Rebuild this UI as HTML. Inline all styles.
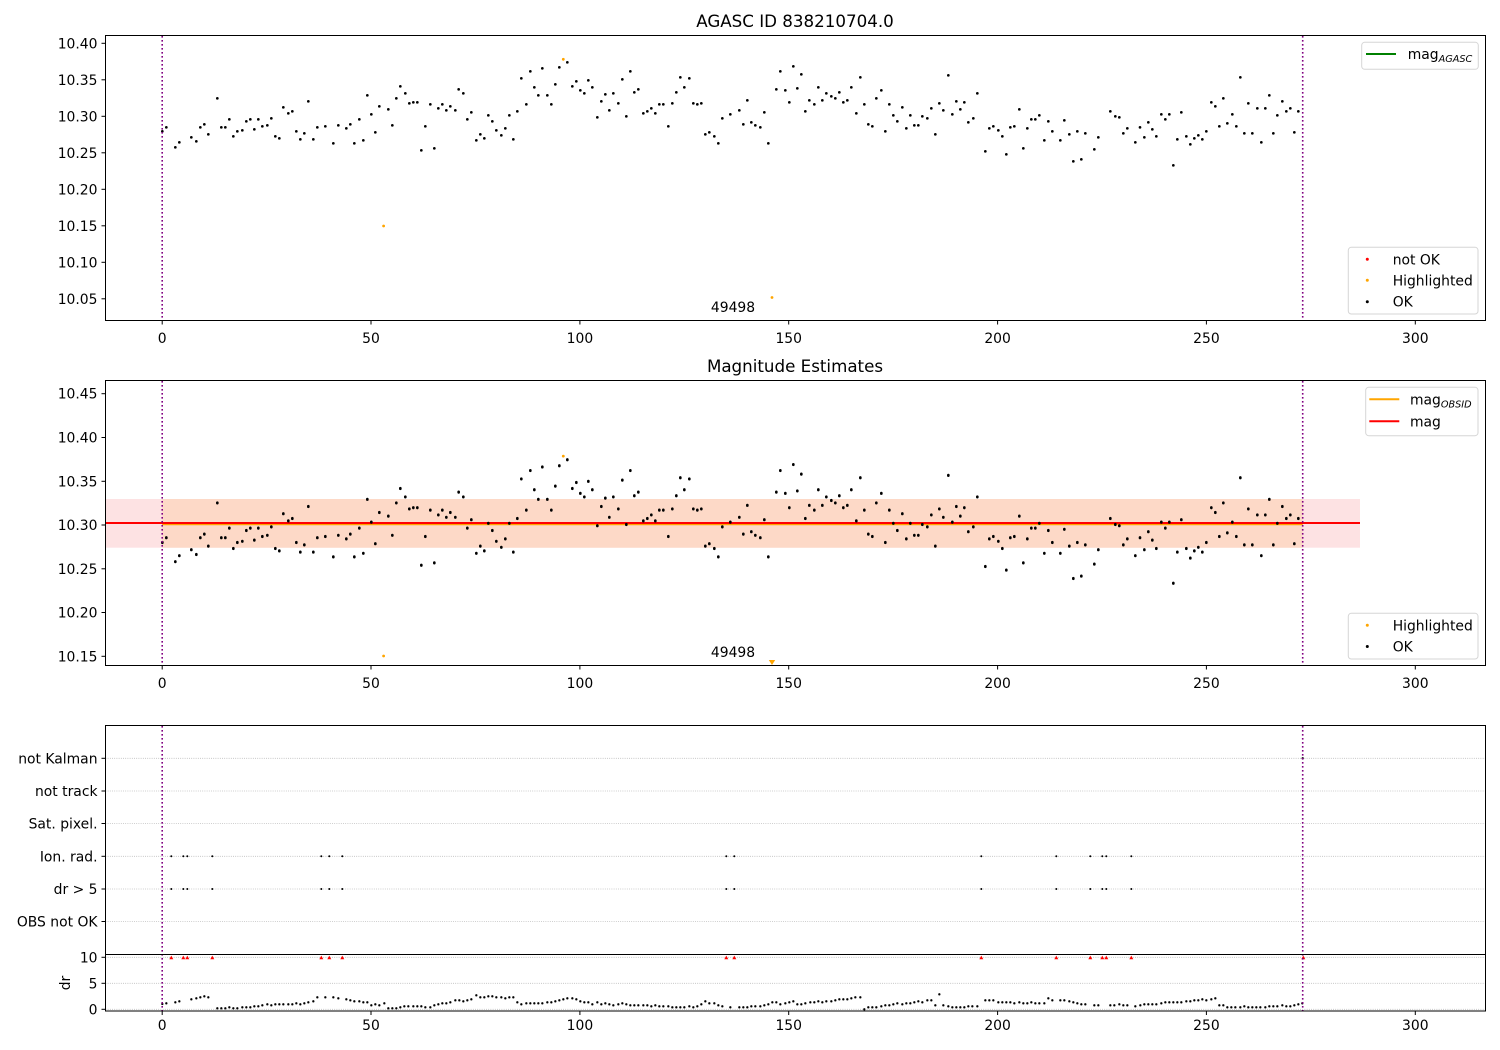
<!DOCTYPE html>
<html><head><meta charset="utf-8"><style>
html,body{margin:0;padding:0;background:#fff;}
svg{display:block;font-family:"DejaVu Sans","Liberation Sans",sans-serif;}
</style></head><body>
<svg width="1500" height="1050" viewBox="0 0 1500 1050" xmlns="http://www.w3.org/2000/svg" xmlns:xlink="http://www.w3.org/1999/xlink">
<rect width="1500" height="1050" fill="#fff"/>

<!-- ============ PANEL 1 ============ -->
<text x="795" y="27" font-size="16.7" text-anchor="middle" fill="#000">AGASC ID 838210704.0</text>
<g id="d1" fill="none" stroke="#000" stroke-linecap="round" stroke-width="8">
<path transform="translate(100,30) scale(0.33333)" d="M187 304h.01M199 292h.01M226 352h.01M238 337h.01M274 322h.01M289 334h.01M301 292h.01M313 283h.01M325 313h.01M352 205h.01M364 292h.01M376 292h.01M388 268h.01M400 319h.01M412 304h.01M427 301h.01M439 274h.01M451 268h.01M463 298h.01M475 268h.01M487 289h.01M502 286h.01M514 265h.01M526 319h.01M538 325h.01M550 232h.01M565 250h.01M577 244h.01M589 304h.01M601 328h.01M613 310h.01M625 214h.01M640 328h.01M652 292h.01M676 289h.01M700 340h.01M715 286h.01M739 295h.01M751 283h.01M763 340h.01M778 268h.01M790 331h.01M802 196h.01M814 253h.01M826 307h.01M838 229h.01M865 238h.01M877 286h.01M889 205h.01M901 169h.01M916 190h.01M928 220h.01M940 217h.01M952 217h.01M964 361h.01M976 289h.01M991 223h.01M1003 355h.01M1015 235h.01M1027 223h.01M1039 241h.01M1051 229h.01M1066 241h.01M1076 178h.01"/>
<path transform="translate(450,30) scale(0.33333)" d="M40 190h.01M52 268h.01M64 247h.01M79 331h.01M91 313h.01M103 325h.01M115 256h.01M127 274h.01M139 301h.01M154 316h.01M166 295h.01M178 256h.01M190 328h.01M202 244h.01M214 145h.01M229 223h.01M241 124h.01M253 172h.01M265 196h.01M277 115h.01M292 196h.01M304 223h.01M316 163h.01M328 112h.01M352 97h.01M367 169h.01M379 154h.01M391 181h.01M403 190h.01M415 151h.01M427 172h.01M442 262h.01M454 214h.01M466 193h.01M478 241h.01M490 190h.01M505 220h.01M517 148h.01M529 259h.01M541 124h.01M553 187h.01M565 178h.01M580 250h.01M592 244h.01M604 235h.01M616 250h.01M628 223h.01M640 223h.01M655 289h.01M667 220h.01M679 187h.01M691 142h.01M703 172h.01M718 145h.01M730 220h.01M742 223h.01M754 220h.01M766 313h.01M778 307h.01M793 319h.01M805 340h.01M817 265h.01M841 253h.01M868 241h.01M880 283h.01M892 211h.01M904 277h.01M916 286h.01M931 292h.01M943 247h.01M955 340h.01M979 178h.01M991 124h.01M1006 181h.01M1018 217h.01M1030 109h.01M1042 175h.01M1054 133h.01M1066 244h.01M1078 211h.01"/>
<path transform="translate(800,30) scale(0.33333)" d="M43 223h.01M55 172h.01M67 211h.01M79 190h.01M94 199h.01M106 205h.01M118 187h.01M130 217h.01M142 211h.01M154 172h.01M169 250h.01M181 142h.01M193 223h.01M205 283h.01M217 289h.01M229 205h.01M244 181h.01M256 304h.01M268 223h.01M280 256h.01M292 274h.01M307 232h.01M319 295h.01M331 256h.01M343 286h.01M355 286h.01M367 259h.01M382 265h.01M394 235h.01M406 313h.01M418 220h.01M430 241h.01M445 136h.01M457 253h.01M469 214h.01M481 238h.01M493 217h.01M505 277h.01M520 265h.01M532 190h.01M556 364h.01M568 295h.01M580 289h.01M595 301h.01M607 319h.01M619 373h.01M631 292h.01M643 289h.01M658 238h.01M670 355h.01M682 295h.01M694 268h.01M706 268h.01M718 256h.01M733 331h.01M745 274h.01M757 304h.01M781 331h.01M793 271h.01M808 313h.01M820 394h.01M832 304h.01M844 388h.01M856 310h.01M883 358h.01M895 322h.01M931 244h.01M946 259h.01M958 262h.01M970 310h.01M982 295h.01M1006 337h.01"/>
<path transform="translate(1140,30) scale(0.33333)" d="M0 292h.01M13 322h.01M25 277h.01M37 298h.01M49 319h.01M64 253h.01M76 268h.01M88 253h.01M100 406h.01M112 328h.01M124 247h.01M139 319h.01M151 343h.01M163 325h.01M175 316h.01M187 328h.01M199 304h.01M214 217h.01M226 229h.01M238 289h.01M250 205h.01M262 280h.01M277 253h.01M289 289h.01M301 142h.01M313 310h.01M325 220h.01M337 310h.01M352 235h.01M364 337h.01M376 235h.01M388 196h.01M400 310h.01M412 256h.01M427 214h.01M439 244h.01M451 235h.01M463 307h.01M475 244h.01"/>
</g>
<g fill="#ffa500">
<circle cx="563.3" cy="59.3" r="1.4"/>
<circle cx="383.6" cy="226" r="1.4"/>
<circle cx="772" cy="297.5" r="1.4"/>
</g>
<text x="733" y="312" font-size="13.9" text-anchor="middle">49498</text>
<g stroke="#800080" stroke-width="1.6" stroke-dasharray="1.6,2.4">
<line x1="162.2" y1="36" x2="162.2" y2="320"/>
<line x1="1302.7" y1="36" x2="1302.7" y2="320"/>
</g>
<rect x="105.5" y="35.5" width="1380" height="285" fill="none" stroke="#000" stroke-width="1"/>
<!-- y ticks p1 -->
<g stroke="#000" stroke-width="1">
<line x1="101.5" y1="43.3" x2="105.5" y2="43.3"/>
<line x1="101.5" y1="79.8" x2="105.5" y2="79.8"/>
<line x1="101.5" y1="116.3" x2="105.5" y2="116.3"/>
<line x1="101.5" y1="152.8" x2="105.5" y2="152.8"/>
<line x1="101.5" y1="189.3" x2="105.5" y2="189.3"/>
<line x1="101.5" y1="225.8" x2="105.5" y2="225.8"/>
<line x1="101.5" y1="262.3" x2="105.5" y2="262.3"/>
<line x1="101.5" y1="298.8" x2="105.5" y2="298.8"/>
<line x1="162.2" y1="320.5" x2="162.2" y2="324.5"/>
<line x1="371" y1="320.5" x2="371" y2="324.5"/>
<line x1="579.9" y1="320.5" x2="579.9" y2="324.5"/>
<line x1="788.7" y1="320.5" x2="788.7" y2="324.5"/>
<line x1="997.6" y1="320.5" x2="997.6" y2="324.5"/>
<line x1="1206.4" y1="320.5" x2="1206.4" y2="324.5"/>
<line x1="1415.3" y1="320.5" x2="1415.3" y2="324.5"/>
</g>
<g font-size="13.9" text-anchor="end">
<text x="97.5" y="48.3">10.40</text>
<text x="97.5" y="84.8">10.35</text>
<text x="97.5" y="121.3">10.30</text>
<text x="97.5" y="157.8">10.25</text>
<text x="97.5" y="194.3">10.20</text>
<text x="97.5" y="230.8">10.15</text>
<text x="97.5" y="267.3">10.10</text>
<text x="97.5" y="303.8">10.05</text>
</g>
<g font-size="13.9" text-anchor="middle">
<text x="162.2" y="343">0</text>
<text x="371" y="343">50</text>
<text x="579.9" y="343">100</text>
<text x="788.7" y="343">150</text>
<text x="997.6" y="343">200</text>
<text x="1206.4" y="343">250</text>
<text x="1415.3" y="343">300</text>
</g>
<!-- legends p1 -->
<rect x="1361.7" y="42.3" width="116.6" height="27" rx="3" fill="#fff" fill-opacity="0.8" stroke="#d6d6d6" stroke-width="1"/>
<line x1="1366" y1="54" x2="1396" y2="54" stroke="#008000" stroke-width="2"/>
<text x="1407.7" y="59" font-size="13.9">mag<tspan font-size="9.7" font-style="italic" dy="3">AGASC</tspan></text>

<rect x="1348.3" y="247.3" width="129.7" height="66.7" rx="3" fill="#fff" fill-opacity="0.8" stroke="#d6d6d6" stroke-width="1"/>
<circle cx="1367.3" cy="259.3" r="1.5" fill="#ff0000"/>
<circle cx="1367.3" cy="280.3" r="1.5" fill="#ffa500"/>
<circle cx="1367.3" cy="301.7" r="1.5" fill="#000"/>
<g font-size="13.9">
<text x="1392.7" y="264.3">not OK</text>
<text x="1392.7" y="285.3">Highlighted</text>
<text x="1392.7" y="306.7">OK</text>
</g>

<!-- ============ PANEL 2 ============ -->
<text x="795" y="372" font-size="16.7" text-anchor="middle" fill="#000">Magnitude Estimates</text>
<rect x="105.5" y="499" width="1254.5" height="48.7" fill="#fde2e3"/>
<rect x="162.2" y="499" width="1140.5" height="48.7" fill="#fdd9c7"/>
<line x1="162.2" y1="524.3" x2="1302.7" y2="524.3" stroke="#ffa500" stroke-width="2"/>
<line x1="105.5" y1="523" x2="1360" y2="523" stroke="#ff0000" stroke-width="2"/>
<use xlink:href="#d1" href="#d1" transform="matrix(1,0,0,1.1992,0,385)"/>
<g fill="#ffa500">
<circle cx="563.3" cy="456.1" r="1.4"/>
<circle cx="383.6" cy="656" r="1.4"/>
<path d="M768.8 660 L775.2 660 L772 665 Z"/>
</g>
<text x="733" y="657" font-size="13.9" text-anchor="middle">49498</text>
<g stroke="#800080" stroke-width="1.6" stroke-dasharray="1.6,2.4">
<line x1="162.2" y1="381" x2="162.2" y2="665"/>
<line x1="1302.7" y1="381" x2="1302.7" y2="665"/>
</g>
<rect x="105.5" y="380.5" width="1380" height="285" fill="none" stroke="#000" stroke-width="1"/>
<g stroke="#000" stroke-width="1">
<line x1="101.5" y1="393.7" x2="105.5" y2="393.7"/>
<line x1="101.5" y1="437.5" x2="105.5" y2="437.5"/>
<line x1="101.5" y1="481.3" x2="105.5" y2="481.3"/>
<line x1="101.5" y1="525" x2="105.5" y2="525"/>
<line x1="101.5" y1="568.8" x2="105.5" y2="568.8"/>
<line x1="101.5" y1="612.5" x2="105.5" y2="612.5"/>
<line x1="101.5" y1="656.3" x2="105.5" y2="656.3"/>
<line x1="162.2" y1="665.5" x2="162.2" y2="669.5"/>
<line x1="371" y1="665.5" x2="371" y2="669.5"/>
<line x1="579.9" y1="665.5" x2="579.9" y2="669.5"/>
<line x1="788.7" y1="665.5" x2="788.7" y2="669.5"/>
<line x1="997.6" y1="665.5" x2="997.6" y2="669.5"/>
<line x1="1206.4" y1="665.5" x2="1206.4" y2="669.5"/>
<line x1="1415.3" y1="665.5" x2="1415.3" y2="669.5"/>
</g>
<g font-size="13.9" text-anchor="end">
<text x="97.5" y="398.7">10.45</text>
<text x="97.5" y="442.5">10.40</text>
<text x="97.5" y="486.3">10.35</text>
<text x="97.5" y="530">10.30</text>
<text x="97.5" y="573.8">10.25</text>
<text x="97.5" y="617.5">10.20</text>
<text x="97.5" y="661.3">10.15</text>
</g>
<g font-size="13.9" text-anchor="middle">
<text x="162.2" y="688">0</text>
<text x="371" y="688">50</text>
<text x="579.9" y="688">100</text>
<text x="788.7" y="688">150</text>
<text x="997.6" y="688">200</text>
<text x="1206.4" y="688">250</text>
<text x="1415.3" y="688">300</text>
</g>
<rect x="1365.7" y="387.3" width="112.3" height="48.4" rx="3" fill="#fff" fill-opacity="0.8" stroke="#d6d6d6" stroke-width="1"/>
<line x1="1369.3" y1="399.3" x2="1399.3" y2="399.3" stroke="#ffa500" stroke-width="2"/>
<line x1="1369.3" y1="421.3" x2="1399.3" y2="421.3" stroke="#ff0000" stroke-width="2"/>
<text x="1410" y="404.3" font-size="13.9">mag<tspan font-size="9.7" font-style="italic" dy="3">OBSID</tspan></text>
<text x="1410" y="426.3" font-size="13.9">mag</text>

<rect x="1348.3" y="613.3" width="129.7" height="45.7" rx="3" fill="#fff" fill-opacity="0.8" stroke="#d6d6d6" stroke-width="1"/>
<circle cx="1367.3" cy="625.3" r="1.5" fill="#ffa500"/>
<circle cx="1367.3" cy="646.5" r="1.5" fill="#000"/>
<g font-size="13.9">
<text x="1392.7" y="630.3">Highlighted</text>
<text x="1392.7" y="651.5">OK</text>
</g>

<!-- ============ PANEL 3 ============ -->
<g stroke="#b0b0b0" stroke-width="0.8" stroke-dasharray="0.8,1.4">
<line x1="105.5" y1="758.3" x2="1485" y2="758.3"/>
<line x1="105.5" y1="791" x2="1485" y2="791"/>
<line x1="105.5" y1="823.5" x2="1485" y2="823.5"/>
<line x1="105.5" y1="856.3" x2="1485" y2="856.3"/>
<line x1="105.5" y1="889" x2="1485" y2="889"/>
<line x1="105.5" y1="921.5" x2="1485" y2="921.5"/>
<line x1="105.5" y1="957.3" x2="1485" y2="957.3"/>
<line x1="105.5" y1="983.3" x2="1485" y2="983.3"/>
<line x1="105.5" y1="1009.3" x2="1485" y2="1009.3"/>
</g>
<g fill="#000">
<circle cx="171.3" cy="856.3" r="1"/><circle cx="183.3" cy="856.3" r="1"/><circle cx="187.3" cy="856.3" r="1"/><circle cx="212.3" cy="856.3" r="1"/><circle cx="321.3" cy="856.3" r="1"/><circle cx="329.3" cy="856.3" r="1"/><circle cx="342.3" cy="856.3" r="1"/><circle cx="726.3" cy="856.3" r="1"/><circle cx="734.3" cy="856.3" r="1"/><circle cx="981.3" cy="856.3" r="1"/><circle cx="1056.3" cy="856.3" r="1"/><circle cx="1090.3" cy="856.3" r="1"/><circle cx="1102.3" cy="856.3" r="1"/><circle cx="1106.3" cy="856.3" r="1"/><circle cx="1131.3" cy="856.3" r="1"/>
<circle cx="171.3" cy="889" r="1"/><circle cx="183.3" cy="889" r="1"/><circle cx="187.3" cy="889" r="1"/><circle cx="212.3" cy="889" r="1"/><circle cx="321.3" cy="889" r="1"/><circle cx="329.3" cy="889" r="1"/><circle cx="342.3" cy="889" r="1"/><circle cx="726.3" cy="889" r="1"/><circle cx="734.3" cy="889" r="1"/><circle cx="981.3" cy="889" r="1"/><circle cx="1056.3" cy="889" r="1"/><circle cx="1090.3" cy="889" r="1"/><circle cx="1102.3" cy="889" r="1"/><circle cx="1106.3" cy="889" r="1"/><circle cx="1131.3" cy="889" r="1"/>
<circle cx="1302.7" cy="758.3" r="1.2"/>
</g>
<!-- dr dots -->
<g fill="none" stroke="#000" stroke-linecap="round" stroke-width="7">
<path transform="translate(150,940) scale(0.33333)" d="M37 192h.01M49 190h.01M76 187h.01M88 184h.01M124 178h.01M139 175h.01M151 172h.01M163 169h.01M175 172h.01M202 205h.01M214 205h.01M226 205h.01M238 202h.01M250 205h.01M262 205h.01M277 202h.01M289 202h.01M301 202h.01M313 199h.01M325 199h.01M337 196h.01M352 193h.01M364 196h.01M376 193h.01M388 193h.01M400 193h.01M415 193h.01M427 193h.01M439 190h.01M451 193h.01M463 190h.01M475 187h.01M490 184h.01M502 172h.01M526 172h.01M550 172h.01M565 175h.01M589 178h.01M601 181h.01M613 184h.01M628 184h.01M640 187h.01M652 187h.01M664 196h.01M676 193h.01M688 196h.01M703 190h.01M715 205h.01M727 205h.01M739 205h.01M751 202h.01M763 199h.01M775 199h.01M790 199h.01M802 199h.01M814 199h.01M826 202h.01M841 202h.01M853 196h.01M865 193h.01M877 190h.01M889 190h.01M901 187h.01M916 181h.01M928 181h.01M940 184h.01M952 181h.01M964 178h.01M979 166h.01M991 172h.01M1003 172h.01M1015 169h.01M1027 169h.01M1039 172h.01M1054 172h.01M1066 175h.01M1078 172h.01M1090 172h.01M1102 187h.01M1114 193h.01M1129 190h.01M1141 190h.01M1153 190h.01M1165 190h.01M1177 190h.01M1192 187h.01"/>
<path transform="translate(540,940) scale(0.33333)" d="M34 187h.01M46 184h.01M58 181h.01M70 178h.01M82 175h.01M97 175h.01M109 178h.01M121 184h.01M133 187h.01M145 187h.01M157 193h.01M172 187h.01M184 193h.01M196 190h.01M208 193h.01M220 196h.01M235 193h.01M247 190h.01M259 193h.01M271 196h.01M283 196h.01M295 196h.01M310 196h.01M322 196h.01M334 199h.01M346 196h.01M358 199h.01M370 199h.01M385 199h.01M397 202h.01M409 202h.01M421 202h.01M433 202h.01M448 199h.01M460 202h.01M472 199h.01M484 193h.01M496 184h.01M508 190h.01M523 190h.01M535 196h.01M547 199h.01M571 202h.01M598 202h.01M610 202h.01M622 202h.01M634 199h.01M646 199h.01M661 199h.01M673 196h.01M685 193h.01M697 187h.01M709 187h.01M721 193h.01M736 190h.01M748 187h.01M760 184h.01M772 193h.01M784 193h.01M796 190h.01M811 187h.01M823 187h.01M835 184h.01M847 187h.01M859 184h.01M874 184h.01M886 181h.01M898 178h.01M910 178h.01M922 178h.01M934 175h.01M946 172h.01M961 172h.01M973 208h.01M985 202h.01M997 202h.01M1009 202h.01M1024 199h.01M1036 196h.01M1048 196h.01M1060 193h.01M1072 190h.01M1087 193h.01M1099 190h.01M1111 190h.01M1123 187h.01M1135 184h.01M1147 187h.01M1162 181h.01"/>
<path transform="translate(930,940) scale(0.33333)" d="M4 181h.01M16 196h.01M28 163h.01M40 196h.01M55 199h.01M67 202h.01M79 202h.01M91 202h.01M103 202h.01M115 199h.01M127 199h.01M142 199h.01M166 181h.01M178 181h.01M190 181h.01M205 187h.01M217 187h.01M229 187h.01M241 187h.01M253 190h.01M268 187h.01M280 190h.01M292 190h.01M304 187h.01M316 190h.01M328 190h.01M343 190h.01M355 175h.01M367 181h.01M391 181h.01M403 181h.01M418 184h.01M430 187h.01M442 190h.01M454 193h.01M466 193h.01M493 196h.01M505 196h.01M541 196h.01M553 196h.01M568 193h.01M580 196h.01M592 196h.01M616 199h.01M631 196h.01M643 193h.01M655 193h.01M667 193h.01M679 193h.01M694 190h.01M706 187h.01M718 187h.01M730 187h.01M742 187h.01M754 187h.01M769 184h.01M781 184h.01M793 181h.01M805 181h.01M817 178h.01M829 181h.01M844 178h.01M856 175h.01M868 196h.01M880 196h.01M892 202h.01M904 202h.01M916 202h.01M931 202h.01M943 199h.01M955 202h.01M967 202h.01M979 202h.01M991 202h.01M1006 202h.01M1018 199h.01M1030 199h.01M1042 199h.01M1057 196h.01M1069 199h.01M1081 199h.01M1093 196h.01M1105 193h.01M1117 190h.01"/>
</g>
<!-- red triangles -->
<g fill="#ff0000">
<path d="M169.3 959.2L173.3 959.2L171.3 955.6Z"/>
<path d="M181.3 959.2L185.3 959.2L183.3 955.6Z"/>
<path d="M185.3 959.2L189.3 959.2L187.3 955.6Z"/>
<path d="M210.3 959.2L214.3 959.2L212.3 955.6Z"/>
<path d="M319.3 959.2L323.3 959.2L321.3 955.6Z"/>
<path d="M327.3 959.2L331.3 959.2L329.3 955.6Z"/>
<path d="M340.3 959.2L344.3 959.2L342.3 955.6Z"/>
<path d="M724.3 959.2L728.3 959.2L726.3 955.6Z"/>
<path d="M732.3 959.2L736.3 959.2L734.3 955.6Z"/>
<path d="M979.3 959.2L983.3 959.2L981.3 955.6Z"/>
<path d="M1054.3 959.2L1058.3 959.2L1056.3 955.6Z"/>
<path d="M1088.3 959.2L1092.3 959.2L1090.3 955.6Z"/>
<path d="M1100.3 959.2L1104.3 959.2L1102.3 955.6Z"/>
<path d="M1104.3 959.2L1108.3 959.2L1106.3 955.6Z"/>
<path d="M1129.3 959.2L1133.3 959.2L1131.3 955.6Z"/>
<path d="M1301.3 959.2L1305.3 959.2L1303.3 955.6Z"/>
</g>
<g stroke="#800080" stroke-width="1.6" stroke-dasharray="1.6,2.4">
<line x1="162.2" y1="726" x2="162.2" y2="1011"/>
<line x1="1302.7" y1="726" x2="1302.7" y2="1011"/>
</g>
<rect x="105.5" y="725.5" width="1380" height="285.5" fill="none" stroke="#000" stroke-width="1"/>
<line x1="105.5" y1="954.5" x2="1485.5" y2="954.5" stroke="#000" stroke-width="1"/>
<g stroke="#000" stroke-width="1">
<line x1="101.5" y1="758.3" x2="105.5" y2="758.3"/>
<line x1="101.5" y1="791" x2="105.5" y2="791"/>
<line x1="101.5" y1="823.5" x2="105.5" y2="823.5"/>
<line x1="101.5" y1="856.3" x2="105.5" y2="856.3"/>
<line x1="101.5" y1="889" x2="105.5" y2="889"/>
<line x1="101.5" y1="921.5" x2="105.5" y2="921.5"/>
<line x1="101.5" y1="957.3" x2="105.5" y2="957.3"/>
<line x1="101.5" y1="983.3" x2="105.5" y2="983.3"/>
<line x1="101.5" y1="1009.3" x2="105.5" y2="1009.3"/>
<line x1="162.2" y1="1011" x2="162.2" y2="1015"/>
<line x1="371" y1="1011" x2="371" y2="1015"/>
<line x1="579.9" y1="1011" x2="579.9" y2="1015"/>
<line x1="788.7" y1="1011" x2="788.7" y2="1015"/>
<line x1="997.6" y1="1011" x2="997.6" y2="1015"/>
<line x1="1206.4" y1="1011" x2="1206.4" y2="1015"/>
<line x1="1415.3" y1="1011" x2="1415.3" y2="1015"/>
</g>
<g font-size="13.9" text-anchor="end">
<text x="97.5" y="763.3">not Kalman</text>
<text x="97.5" y="796">not track</text>
<text x="97.5" y="828.5">Sat. pixel.</text>
<text x="97.5" y="861.3">Ion. rad.</text>
<text x="97.5" y="894">dr &gt; 5</text>
<text x="97.5" y="926.5">OBS not OK</text>
<text x="97.5" y="962.3">10</text>
<text x="97.5" y="988.3">5</text>
<text x="97.5" y="1014.3">0</text>
</g>
<text x="70" y="983" font-size="13.9" text-anchor="middle" transform="rotate(-90 70 983)">dr</text>
<g font-size="13.9" text-anchor="middle">
<text x="162.2" y="1030">0</text>
<text x="371" y="1030">50</text>
<text x="579.9" y="1030">100</text>
<text x="788.7" y="1030">150</text>
<text x="997.6" y="1030">200</text>
<text x="1206.4" y="1030">250</text>
<text x="1415.3" y="1030">300</text>
</g>
</svg>
</body></html>
